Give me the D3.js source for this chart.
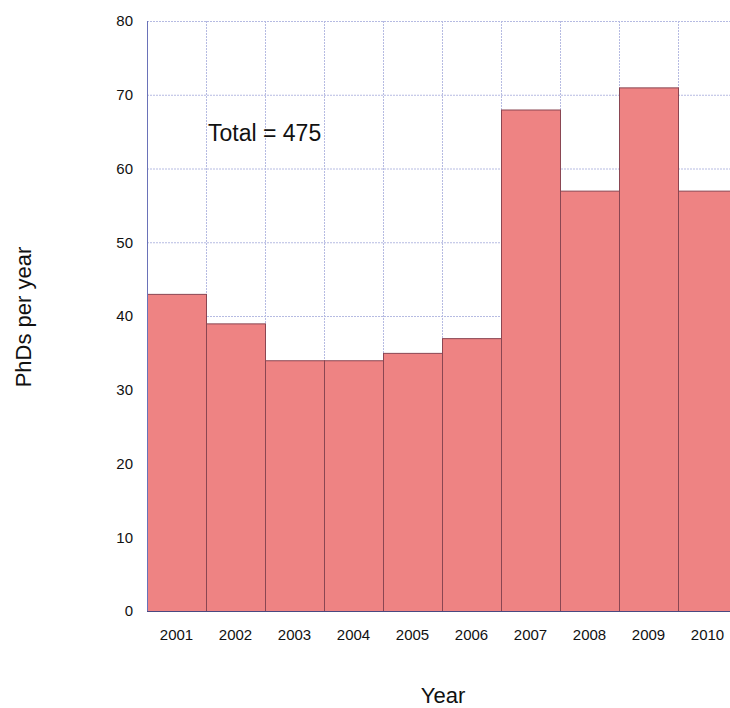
<!DOCTYPE html>
<html><head><meta charset="utf-8">
<script src="https://cdn.jsdelivr.net/npm/d3@7"></script>
<style>body{margin:0;background:#fff;} text{font-family:"Liberation Sans",Arial,sans-serif;fill:#111;}</style>
</head><body>
<svg id="c" width="730" height="708"></svg>
<script>
const years = ["2001","2002","2003","2004","2005","2006","2007","2008","2009","2010"];
const phds = [43,39,34,34,35,37,68,57,71,57];
const yTicks = [0,10,20,30,40,50,60,70,80];
const totalLabel = "Total = 475";

const svg = d3.select("#c");
const m = {left:147, top:21, bottom:611, right:737};
const x = d3.scaleBand().domain(years).range([m.left, m.right]).padding(0);
const y = d3.scaleLinear().domain([0,80]).range([m.bottom, m.top]);

const grid = "#b6bbe2";
svg.append("g").selectAll("line").data(yTicks.filter(d=>d>0)).join("line")
  .attr("x1", m.left).attr("x2", m.right)
  .attr("y1", d=>y(d)+0.5).attr("y2", d=>y(d)+0.5)
  .attr("stroke", grid).attr("stroke-width",1).attr("stroke-dasharray","2,1");
svg.append("g").selectAll("line").data(years.slice(1)).join("line")
  .attr("x1", d=>x(d)+0.5).attr("x2", d=>x(d)+0.5)
  .attr("y1", m.top).attr("y2", m.bottom)
  .attr("stroke", grid).attr("stroke-width",1).attr("stroke-dasharray","2,1");

svg.append("g").selectAll("rect").data(years).join("rect")
  .attr("x", d=>x(d)+0.5)
  .attr("y", (d,i)=>y(phds[i])+0.5)
  .attr("width", x.bandwidth())
  .attr("height", (d,i)=>y(0)-y(phds[i]))
  .attr("fill", "#ee8383")
  .attr("stroke", "#8a4652").attr("stroke-width",1);

svg.append("line").attr("x1", m.left+0.5).attr("x2", m.left+0.5)
  .attr("y1", m.top).attr("y2", m.bottom).attr("stroke", "#6a72b8").attr("stroke-width",1);
svg.append("line").attr("x1", m.left).attr("x2", m.right)
  .attr("y1", m.bottom+0.5).attr("y2", m.bottom+0.5)
  .attr("stroke", "#4a4880").attr("stroke-width",1);

const yAxis = d3.axisLeft(y).tickValues(yTicks).tickSize(0).tickPadding(14);
const gy = svg.append("g").attr("transform", `translate(${m.left},0)`).call(yAxis);
gy.select(".domain").remove();
gy.selectAll("text").style("font-size","15px").style("font-family","Liberation Sans, Arial, sans-serif").attr("fill","#111");

const xAxis = d3.axisBottom(x).tickSize(0).tickPadding(18);
const gx = svg.append("g").attr("transform", `translate(0,${m.bottom})`).call(xAxis);
gx.select(".domain").remove();
gx.selectAll("text").style("font-size","15px").style("font-family","Liberation Sans, Arial, sans-serif").attr("fill","#111");

svg.append("text").attr("x", 443).attr("y", 703).attr("text-anchor","middle")
  .style("font-size","22px").text("Year");
svg.append("text").attr("transform","translate(31,317) rotate(-90)").attr("text-anchor","middle")
  .style("font-size","22px").text("PhDs per year");
svg.append("text").attr("x", 208).attr("y", 141)
  .style("font-size","23px").text(totalLabel);
</script>
</body></html>
